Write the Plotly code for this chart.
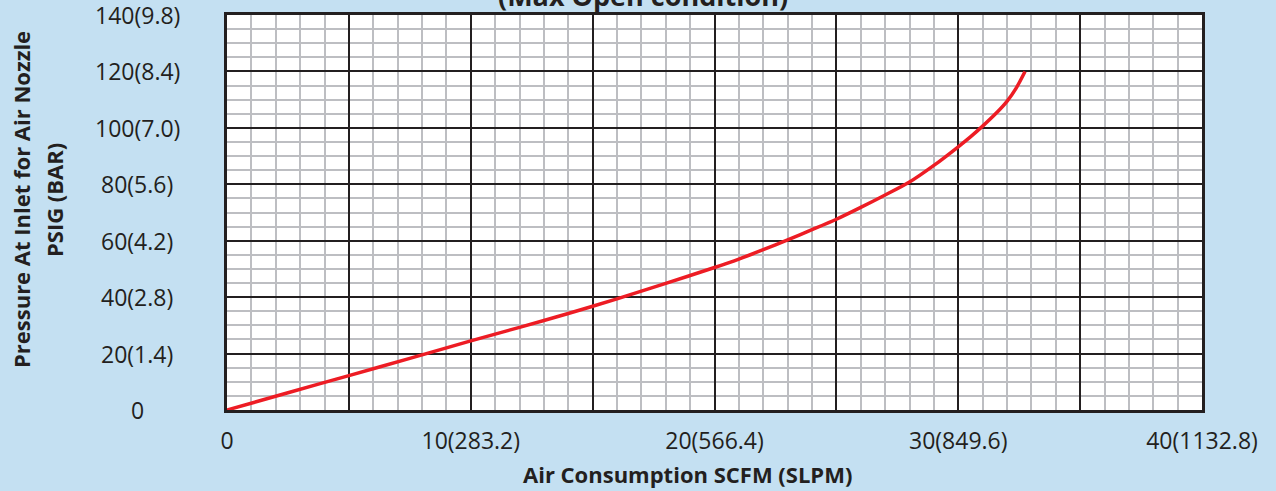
import plotly.graph_objects as go

# Data
scfm = [0, 2.5, 5, 7.5, 10, 12, 14, 16, 18, 20, 21, 22, 23, 24, 25, 26, 27, 28, 29, 30, 30.5, 31, 31.5, 32, 32.37, 32.74]
psig = [0, 6.1, 12.2, 18.3, 24.5, 29.3, 34.2, 39.4, 44.9, 50.5, 53.5, 56.8, 60.3, 63.9, 67.6, 71.8, 76.2, 80.8, 86.7, 93.3, 96.8, 100.6, 104.7, 109.4, 114.0, 120]

x_tick_vals = [0, 5, 10, 15, 20, 25, 30, 35, 40]
x_tick_text = ["0", "", "10(283.2)", "", "20(566.4)", "", "30(849.6)", "", "40(1132.8)"]
y_tick_vals = [0, 20, 40, 60, 80, 100, 120, 140]
y_tick_text = ["0", "20(1.4)", "40(2.8)", "60(4.2)", "80(5.6)", "100(7.0)", "120(8.4)", "140(9.8)"]

title_text = "(Max Open condition)"
x_title = "Air Consumption SCFM (SLPM)"
y_title_lines = ["Pressure At Inlet for Air Nozzle", "PSIG (BAR)"]

FONT = "Open Sans"
TXT = "#231F20"
BG = "#C4E0F2"

fig = go.Figure()
fig.add_trace(go.Scatter(
    x=scfm, y=psig, mode="lines",
    line=dict(color="#ED1C24", width=3.5, shape="spline", smoothing=0.8),
    showlegend=False, hoverinfo="skip",
))

W, H = 1276, 491
L, R, T, B = 227, 74, 15, 81
pw = W - L - R
ph = H - T - B

annotations = []
for v, t in zip(y_tick_vals, y_tick_text):
    annotations.append(dict(
        x=(137 - L) / pw, xref="paper", y=v, yref="y",
        text=t, showarrow=False, xanchor="center", yanchor="middle",
        font=dict(family=FONT, size=23, color=TXT),
    ))
for xc, line in zip([21, 54], y_title_lines):
    annotations.append(dict(
        x=(xc - L) / pw, xref="paper", y=(H - B - 200) / ph, yref="paper",
        text=line, textangle=-90, showarrow=False,
        xanchor="center", yanchor="middle",
        font=dict(family=FONT, size=22, color=TXT, weight="bold"),
    ))
annotations.append(dict(
    x=(687 - L) / pw, xref="paper", y=(H - B - 474) / ph, yref="paper",
    text=x_title, showarrow=False, xanchor="center", yanchor="middle",
    font=dict(family=FONT, size=22, color=TXT, weight="bold"),
))
annotations.append(dict(
    x=(643 - L) / pw, xref="paper", y=(H - B - (-4)) / ph, yref="paper",
    text=title_text, showarrow=False, xanchor="center", yanchor="middle",
    font=dict(family=FONT, size=27, color=TXT, weight="bold"),
))

fig.update_layout(
    width=W, height=H,
    margin=dict(l=L, r=R, t=T, b=B),
    paper_bgcolor=BG, plot_bgcolor="white",
    annotations=annotations,
    xaxis=dict(
        range=[0, 40], tickmode="array", tickvals=x_tick_vals, ticktext=x_tick_text,
        showgrid=True, gridcolor="#231F20", gridwidth=2,
        minor=dict(dtick=1, showgrid=True, gridcolor="#BDBEC2", gridwidth=2),
        showline=True, linecolor="#231F20", linewidth=3, mirror=True,
        ticks="", ticklabelstandoff=8,
        tickfont=dict(family=FONT, size=23, color=TXT),
        zeroline=False, fixedrange=True,
    ),
    yaxis=dict(
        range=[0, 140], tickmode="array", tickvals=y_tick_vals, ticktext=["" for _ in y_tick_vals],
        showgrid=True, gridcolor="#231F20", gridwidth=2,
        minor=dict(dtick=5, showgrid=True, gridcolor="#BDBEC2", gridwidth=2),
        showline=True, linecolor="#231F20", linewidth=3, mirror=True,
        ticks="", zeroline=False, fixedrange=True,
    ),
)

fig.write_html("out.html", config={"displayModeBar": False},
               post_script="document.body.style.margin='0';document.body.style.overflow='hidden';")
